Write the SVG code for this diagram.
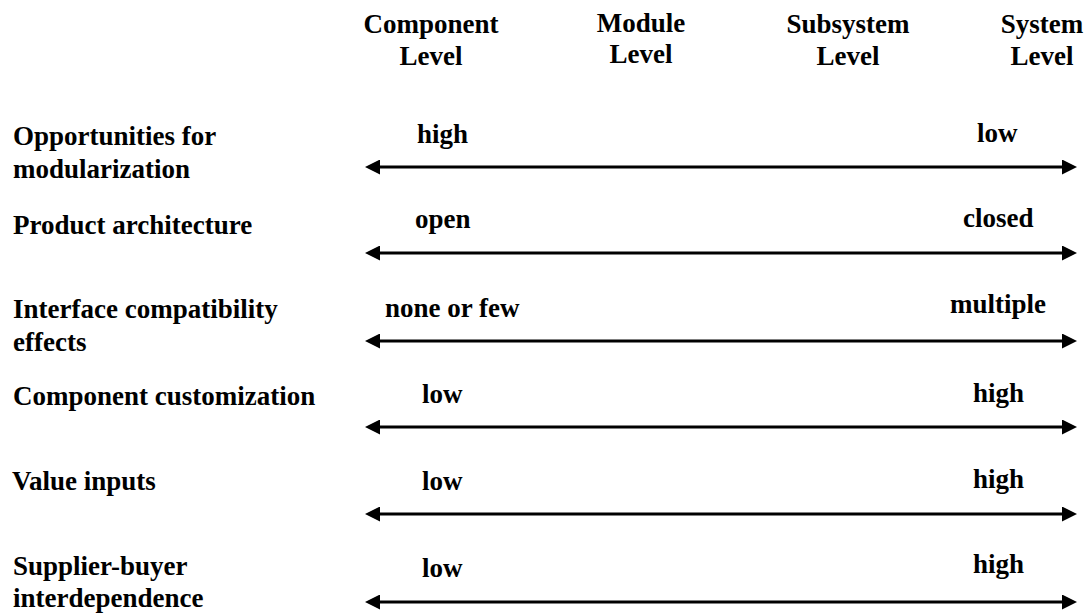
<svg xmlns="http://www.w3.org/2000/svg" width="1090" height="613" viewBox="0 0 1090 613">
  <style>
    text { font-family: "Liberation Serif", "Times New Roman", serif; font-weight: bold; font-size: 27px; fill: #000; }
    .mid { text-anchor: middle; }
    .scale { stroke: #000; stroke-width: 3; fill: none; marker-start: url(#head); marker-end: url(#head); }
  </style>
  <defs>
    <marker id="head" markerUnits="userSpaceOnUse" markerWidth="15" markerHeight="15" refX="8" refY="7.5" orient="auto-start-reverse">
      <path d="M0,0 L15,7.5 L0,15 z" fill="#000"/>
    </marker>
  </defs>

  <rect width="1090" height="613" fill="#fff"/>

  <!-- column headings -->
  <g id="col-component"><text class="mid" x="431" y="33">Component</text><text class="mid" x="431" y="65">Level</text></g>
  <g id="col-module"><text class="mid" x="641" y="32">Module</text><text class="mid" x="641" y="63">Level</text></g>
  <g id="col-subsystem"><text class="mid" x="848" y="33">Subsystem</text><text class="mid" x="848" y="65">Level</text></g>
  <g id="col-system"><text class="mid" x="1042" y="33">System</text><text class="mid" x="1042" y="65">Level</text></g>

  <!-- row headings -->
  <g id="row-modularization"><text x="13" y="145">Opportunities for</text><text x="13" y="178">modularization</text></g>
  <g id="row-architecture"><text x="13" y="234">Product architecture</text></g>
  <g id="row-interface"><text x="13" y="318">Interface compatibility</text><text x="13" y="351">effects</text></g>
  <g id="row-customization"><text x="13" y="405">Component customization</text></g>
  <g id="row-value"><text x="12" y="490">Value inputs</text></g>
  <g id="row-interdependence"><text x="13" y="575">Supplier-buyer</text><text x="13" y="607">interdependence</text></g>

  <!-- scale end labels -->
  <g id="ends-modularization"><text x="417" y="143">high</text><text x="977" y="142">low</text></g>
  <g id="ends-architecture"><text x="415" y="228">open</text><text x="963" y="227">closed</text></g>
  <g id="ends-interface"><text x="385" y="317">none or few</text><text x="950" y="313">multiple</text></g>
  <g id="ends-customization"><text x="422" y="403">low</text><text x="973" y="402">high</text></g>
  <g id="ends-value"><text x="422" y="490">low</text><text x="973" y="488">high</text></g>
  <g id="ends-interdependence"><text x="422" y="577">low</text><text x="973" y="573">high</text></g>

  <!-- double-headed scale arrows -->
  <g id="connectors">
    <line class="scale" x1="372" y1="167" x2="1070" y2="167"/>
    <line class="scale" x1="372" y1="253" x2="1070" y2="253"/>
    <line class="scale" x1="372" y1="341" x2="1070" y2="341"/>
    <line class="scale" x1="372" y1="427" x2="1070" y2="427"/>
    <line class="scale" x1="372" y1="514" x2="1070" y2="514"/>
    <line class="scale" x1="372" y1="602" x2="1070" y2="602"/>
  </g>
</svg>
